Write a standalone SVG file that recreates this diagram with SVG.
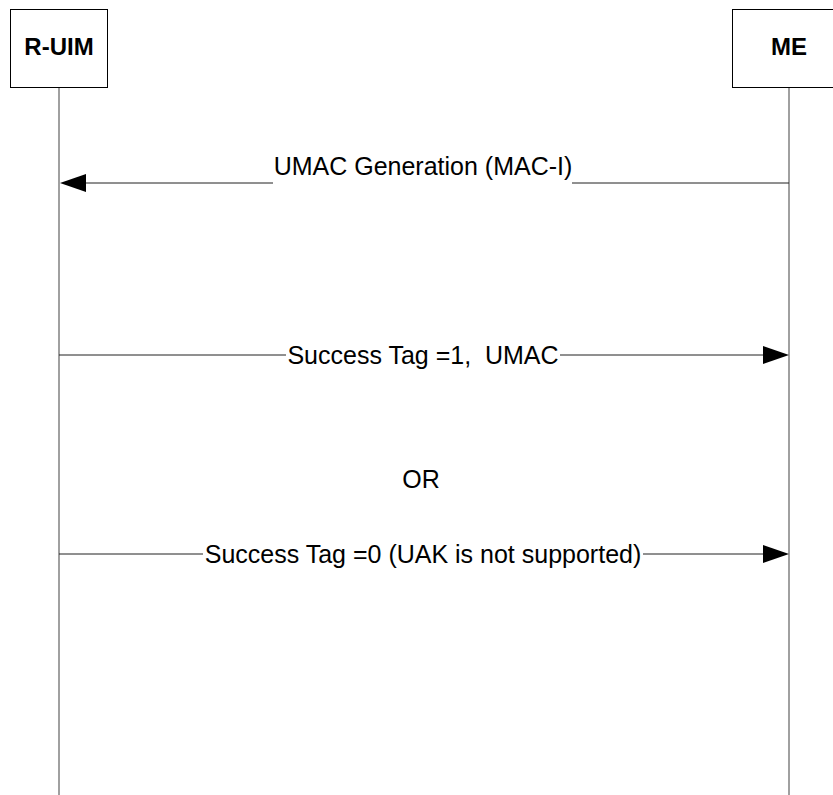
<svg xmlns="http://www.w3.org/2000/svg" width="833" height="795" viewBox="0 0 833 795">
<style>
  .box { fill: #ffffff; stroke: #000000; stroke-width: 1; }
  .title { font-family: "Liberation Sans", Arial, sans-serif; font-size: 24px; font-weight: bold; text-anchor: middle; fill: #000000; }
  .life { stroke: #808080; stroke-width: 1.5; fill: none; }
  .msg { stroke: #202020; stroke-width: 1; fill: none; }
  .head { fill: #000000; stroke: none; }
  .label { font-family: "Liberation Sans", Arial, sans-serif; font-size: 25px; text-anchor: middle; fill: #000000; white-space: pre; }
</style>
<rect x="0" y="0" width="833" height="795" fill="#ffffff"/>
<g id="lifelines">
  <line class="life" x1="59" y1="88" x2="59" y2="795"/>
  <line class="life" x1="789" y1="88" x2="789" y2="795"/>
</g>
<g id="node-ruim">
  <rect class="box" x="10.5" y="9.5" width="97" height="78"/>
  <text class="title" x="59" y="55">R-UIM</text>
</g>
<g id="node-me">
  <rect class="box" x="732.5" y="9.5" width="120" height="78"/>
  <text class="title" x="789" y="55">ME</text>
</g>
<g id="connectors">
  <g id="msg1">
    <line class="msg" x1="85" y1="183" x2="273" y2="183"/>
    <line class="msg" x1="572" y1="183" x2="789" y2="183"/>
    <polygon class="head" points="60,183 86,174 86,192"/>
    <text class="label" x="423" y="175">UMAC Generation (MAC-I)</text>
  </g>
  <g id="msg2">
    <line class="msg" x1="59" y1="355" x2="286" y2="355"/>
    <line class="msg" x1="560" y1="355" x2="764" y2="355"/>
    <polygon class="head" points="789,355 763,346 763,364"/>
    <text class="label" x="423" y="364" xml:space="preserve">Success Tag =1,  UMAC</text>
  </g>
  <g id="msg3">
    <line class="msg" x1="59" y1="554" x2="203" y2="554"/>
    <line class="msg" x1="643" y1="554" x2="764" y2="554"/>
    <polygon class="head" points="789,554 763,545 763,563"/>
    <text class="label" x="423" y="563">Success Tag =0 (UAK is not supported)</text>
  </g>
</g>
<text class="label" x="421" y="488">OR</text>
</svg>
